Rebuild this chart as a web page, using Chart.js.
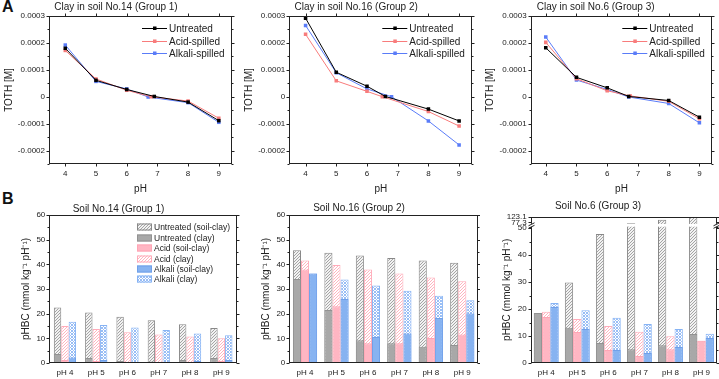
<!DOCTYPE html>
<html>
<head>
<meta charset="utf-8">
<script src="https://cdn.jsdelivr.net/npm/chart.js@4.4.1/dist/chart.umd.min.js"></script>
<style>
  body { margin: 0; background: #fff; }
  #wrap { position: relative; width: 719px; height: 379px; overflow: hidden; font-family: "Liberation Sans", Arial, sans-serif; }
  canvas { position: absolute; }
  .tag { position: absolute; font-weight: bold; font-size: 16px; color: #111; line-height: 16px; }
</style>
</head>
<body>
<div id="wrap">
  <div class="tag" style="left:2px;top:-1px">A</div>
  <div class="tag" style="left:2px;top:191px">B</div>
  <canvas id="a1" width="240" height="195" style="left:0;top:0"></canvas>
  <canvas id="a2" width="240" height="195" style="left:240px;top:0"></canvas>
  <canvas id="a3" width="240" height="195" style="left:479px;top:0"></canvas>
  <canvas id="b1" width="240" height="189" style="left:0;top:190px"></canvas>
  <canvas id="b2" width="240" height="189" style="left:240px;top:190px"></canvas>
  <canvas id="b3" width="240" height="189" style="left:479px;top:190px"></canvas>
</div>
<script>
// ---- panel A: TOTH vs pH ----
const seriesNames = ['Untreated', 'Acid-spilled', 'Alkali-spilled'];
const phTicks = [4, 5, 6, 7, 8, 9];
const tothTicks = [-0.0002, -0.0001, 0, 0.0001, 0.0002, 0.0003];

const ph14 = [[4, 5, 6, 6.9, 8, 9], [4, 5, 6, 6.8, 8, 9], [4, 5, 6, 6.7, 8, 9]];
const toth14Untreated = [0.000180, 0.000061, 0.000027, 0.000001, -0.000020, -0.000089];
const toth14Acid = [0.000172, 0.000066, 0.000024, 0.000000, -0.000016, -0.000080];
const toth14Alkali = [0.000192, 0.000057, 0.000029, -0.000001, -0.000022, -0.000095];

const ph16 = [[4, 5, 6, 6.6, 8, 9], [4, 5, 6, 6.5, 8, 9], [4, 5, 6, 6.8, 8, 9]];
const toth16Untreated = [0.000292, 0.000091, 0.000039, 0.000001, -0.000046, -0.000090];
const toth16Acid = [0.000232, 0.000059, 0.000020, 0.000000, -0.000055, -0.000109];
const toth16Alkali = [0.000265, 0.000089, 0.000029, 0.000000, -0.000090, -0.000179];

const ph6 = [[4, 5, 6, 6.7, 8, 9], [4, 5, 6, 6.75, 8, 9], [4, 5, 6, 6.7, 8, 9]];
const toth6Untreated = [0.000182, 0.000072, 0.000033, 0.000001, -0.000014, -0.000076];
const toth6Acid = [0.000202, 0.000067, 0.000022, 0.000003, -0.000017, -0.000082];
const toth6Alkali = [0.000222, 0.000062, 0.000027, -0.000001, -0.000025, -0.000097];

// ---- panel B: pHBC bars ----
const phLabels = ['pH 4', 'pH 5', 'pH 6', 'pH 7', 'pH 8', 'pH 9'];
const barLabels = ['Untreated (soil-clay)', 'Untreated (clay)', 'Acid (soil-clay)', 'Acid (clay)', 'Alkali (soil-clay)', 'Alkali (clay)'];
const yTicksB = [0, 10, 20, 30, 40, 50, 60];
const yTicksB3 = [0, 10, 20, 30, 40, 50, 77.3, 123.1];

const untreatedTotal14 = [22.5, 20.5, 18.8, 17.3, 15.7, 14.2];
const untreatedClay14 = [3.6, 2.0, 0.8, 0.6, 1.2, 2.0];
const acidSolid14 = [1.2, 0.8, 0.3, 0.2, 0.3, 0.8];
const acidTotal14 = [15.0, 13.8, 12.5, 11.6, 10.7, 10.0];
const alkaliSolid14 = [2.2, 1.2, 0.4, 0.3, 0.8, 1.2];
const alkaliTotal14 = [16.7, 15.4, 14.4, 13.4, 12.0, 11.2];

const untreatedTotal16 = [45.7, 44.7, 43.6, 42.6, 41.6, 40.6];
const untreatedClay16 = [34.1, 21.5, 9.2, 8.0, 6.6, 7.3];
const acidSolid16 = [37.9, 23.0, 8.0, 8.0, 10.1, 11.6];
const acidTotal16 = [41.6, 39.7, 37.9, 36.3, 34.7, 33.1];
const alkaliSolid16 = [36.3, 25.9, 10.5, 12.0, 18.2, 20.1];
const alkaliTotal16 = [36.3, 33.9, 31.4, 29.3, 27.3, 25.4];

const untreatedTotal6 = [18.6, 29.9, 47.9, 73.0, 98.0, 123.1];
const untreatedClay6 = [18.6, 13.1, 7.4, 5.1, 6.6, 10.8];
const acidSolid6 = [17.1, 11.5, 4.8, 2.6, 5.1, 8.3];
const acidTotal6 = [19.0, 16.3, 13.7, 11.6, 9.9, 8.3];
const alkaliSolid6 = [20.8, 12.6, 4.8, 3.7, 5.9, 9.3];
const alkaliTotal6 = [22.3, 19.6, 16.8, 14.5, 12.6, 10.9];

const FONT = '"Liberation Sans", Arial, sans-serif';
Chart.defaults.font.family = FONT;
Chart.defaults.color = '#222';

const lineColors = ['#000000', '#f87c7c', '#5a7cf8'];

function hatch(line, bg, size, cross) {
  const c = document.createElement('canvas');
  c.width = c.height = size;
  const g = c.getContext('2d');
  g.fillStyle = bg;
  g.fillRect(0, 0, size, size);
  g.strokeStyle = line;
  g.lineWidth = 1;
  g.beginPath();
  g.moveTo(-1, size + 1); g.lineTo(size + 1, -1);
  if (cross) { g.moveTo(-1, -1); g.lineTo(size + 1, size + 1); }
  g.stroke();
  return g.createPattern(c, 'repeat');
}
const grayHatch = hatch('#a4a4a4', '#f2f2f2', 3);
const pinkHatch = hatch('#ffb3bf', '#ffffff', 3);
const blueHatch = hatch('#98bdf5', '#ffffff', 3, true);

// axis break for the Soil No.6 panel: 50 -> 77.3 -> 123.1 squeezed at the top
function squash(v) {
  if (v <= 50) return v;
  if (v <= 77.3) return 50 + (v - 50) / 27.3 * 2.2;
  return 52.2 + (v - 77.3) / 45.8 * 2.1;
}
class BrokenScale extends Chart.LinearScale {
  getPixelForValue(v) { return super.getPixelForValue(squash(v)); }
}
BrokenScale.id = 'broken';
BrokenScale.defaults = Chart.LinearScale.defaults;
Chart.register(BrokenScale);

// box frame with outward ticks on every side, Origin style
const originFrame = {
  id: 'originFrame',
  afterDatasetsDraw(chart, args, o) {
    if (!o.gap) return;
    const { ctx, chartArea: a, scales: { y } } = chart;
    const p0 = y.getPixelForValue(o.gap[0]), p1 = y.getPixelForValue(o.gap[1]);
    ctx.save();
    ctx.fillStyle = '#fff';
    ctx.fillRect(a.left + 1, p1, a.right - a.left - 2, p0 - p1);
    ctx.restore();
  },
  afterDraw(chart, args, o) {
    const { ctx, chartArea: a, scales: { x, y } } = chart;
    const L = Math.round(a.left) + 0.5, R = Math.round(a.right) - 0.5;
    const T = Math.round(a.top) + 0.5, B = Math.round(a.bottom) - 0.5;
    ctx.save();
    ctx.strokeStyle = '#222';
    ctx.lineWidth = 1;
    ctx.strokeRect(L, T, R - L, B - T);
    ctx.beginPath();
    y.ticks.forEach(t => {
      const p = Math.round(y.getPixelForValue(t.value)) + 0.5;
      ctx.moveTo(L - 3, p); ctx.lineTo(L, p);
      ctx.moveTo(R, p); ctx.lineTo(R + 3, p);
    });
    if (o.minor) {
      for (let v = o.minor[0]; v <= o.minor[1] + 1e-12; v += o.minor[2]) {
        const p = Math.round(y.getPixelForValue(v)) + 0.5;
        ctx.moveTo(L - 2, p); ctx.lineTo(L, p);
        ctx.moveTo(R, p); ctx.lineTo(R + 2, p);
      }
    }
    if (o.xTicks) {
      x.ticks.forEach(t => {
        const p = Math.round(x.getPixelForValue(t.value)) + 0.5;
        ctx.moveTo(p, B); ctx.lineTo(p, B + 3);
        ctx.moveTo(p, T - 3); ctx.lineTo(p, T);
      });
    }
    ctx.stroke();
    if (o.gap) {
      const pm = (y.getPixelForValue(o.gap[0]) + y.getPixelForValue(o.gap[1])) / 2;
      [L, R].forEach(px => {
        ctx.fillStyle = '#fff';
        ctx.fillRect(px - 3, pm - 1.5, 6, 3);
        ctx.beginPath();
        ctx.moveTo(px - 3, pm + 0.5); ctx.lineTo(px + 3, pm - 2.5);
        ctx.moveTo(px - 3, pm + 3); ctx.lineTo(px + 3, pm);
        ctx.stroke();
      });
    }
    ctx.restore();
  }
};

// legend drawn inside the plot area
const insideLegend = {
  id: 'insideLegend',
  afterDraw(chart, args, o) {
    if (!o.show) return;
    const { ctx, chartArea: a } = chart;
    ctx.save();
    ctx.font = o.size + 'px ' + FONT;
    ctx.textBaseline = 'middle';
    ctx.fillStyle = '#222';
    chart.data.datasets.forEach((ds, i) => {
      const x = a.right - o.right, y = Math.round(a.top + o.top + i * o.gap) + 0.5;
      if (o.kind === 'line') {
        ctx.strokeStyle = ds.borderColor;
        ctx.lineWidth = 1;
        ctx.beginPath(); ctx.moveTo(x, y); ctx.lineTo(x + 25, y); ctx.stroke();
        ctx.fillStyle = ds.borderColor;
        ctx.fillRect(x + 11, y - 2, 3.5, 3.5);
        ctx.fillStyle = '#222';
        ctx.fillText(ds.label, x + 27, y + 0.5);
      } else {
        ctx.fillStyle = ds.backgroundColor;
        ctx.fillRect(x, y - 4, 15, 7);
        ctx.strokeStyle = ds.borderColor;
        ctx.lineWidth = 1;
        ctx.strokeRect(x + 0.5, y - 3.5, 14, 6);
        ctx.fillStyle = '#222';
        ctx.fillText(ds.label, x + 17, y);
      }
    });
    ctx.restore();
  }
};

function makeLine(id, title, xs, ys, lay) {
  return new Chart(document.getElementById(id), {
    type: 'line',
    data: {
      // dataset 0 (Untreated) is drawn last, so it sits on top
      datasets: seriesNames.map((name, i) => ({
        label: name,
        data: xs[i].map((x, j) => ({ x, y: ys[i][j] })),
        borderColor: lineColors[i],
        backgroundColor: lineColors[i],
        borderWidth: 1,
        pointStyle: 'rect',
        pointRadius: 2.5,
        pointBorderWidth: 0,
        tension: 0
      }))
    },
    options: {
      animation: false, responsive: false, devicePixelRatio: 1,
      layout: { padding: { left: 0, top: 0, right: lay.right, bottom: 0 } },
      plugins: {
        legend: { display: false },
        tooltip: { enabled: false },
        title: { display: true, text: title, color: '#222', font: { size: 10, weight: 'normal' }, padding: { top: lay.tp, bottom: lay.tb } },
        originFrame: { xTicks: true, minor: [-0.00025, 0.0003, 0.00005] },
        insideLegend: { show: true, kind: 'line', right: 90, top: 12, gap: 12.5, size: 10 }
      },
      scales: {
        x: {
          type: 'linear', min: lay.xmin, max: lay.xmax,
          afterBuildTicks: s => { s.ticks = phTicks.map(v => ({ value: v })); },
          afterFit: s => { s.height = 195 - 164; },
          grid: { display: false, drawTicks: false }, border: { display: false },
          ticks: { font: { size: 8 }, padding: 5 },
          title: { display: true, text: 'pH', font: { size: 10 }, padding: { top: 0, bottom: 0 } }
        },
        y: {
          min: -0.00025, max: 0.0003,
          afterBuildTicks: s => { s.ticks = tothTicks.map(v => ({ value: v })); },
          afterFit: s => { s.width = lay.left; },
          grid: { display: false, drawTicks: false }, border: { display: false },
          ticks: { font: { size: 8 }, padding: 4, callback: v => Math.abs(v) < 1e-12 ? '0' : v.toFixed(4) },
          title: { display: true, text: 'TOTH [M]', font: { size: 10 }, padding: { top: lay.yt, bottom: 0 } }
        }
      }
    },
    plugins: [originFrame, insideLegend]
  });
}

function makeBar(id, title, s, lay) {
  const common = { borderWidth: 1, barPercentage: 1, categoryPercentage: lay.cat };
  return new Chart(document.getElementById(id), {
    type: 'bar',
    data: {
      labels: phLabels,
      datasets: [
        { ...common, label: barLabels[0], data: s[0], stack: 'u', order: 2, backgroundColor: grayHatch, borderColor: '#888888' },
        { ...common, label: barLabels[1], data: s[1], stack: 'u', order: 1, backgroundColor: '#a8a8a8', borderColor: '#929292' },
        { ...common, label: barLabels[2], data: s[2], stack: 'a', order: 1, backgroundColor: '#ffb6c3', borderColor: '#ffa5b5' },
        { ...common, label: barLabels[3], data: s[3], stack: 'a', order: 2, backgroundColor: pinkHatch, borderColor: '#ffabb9' },
        { ...common, label: barLabels[4], data: s[4], stack: 'k', order: 1, backgroundColor: '#87b3f1', borderColor: '#70a0e9' },
        { ...common, label: barLabels[5], data: s[5], stack: 'k', order: 2, backgroundColor: blueHatch, borderColor: '#86b3f4' }
      ]
    },
    options: {
      animation: false, responsive: false, devicePixelRatio: 1,
      layout: { padding: { left: 0, top: 0, right: lay.right, bottom: 0 } },
      plugins: {
        legend: { display: false },
        tooltip: { enabled: false },
        title: { display: true, text: title, color: '#222', font: { size: 10, weight: 'normal' }, padding: { top: lay.tp, bottom: lay.tb } },
        originFrame: { minor: [5, 55, 10], gap: lay.gap },
        insideLegend: { show: !!lay.legend, kind: 'box', right: 100, top: 12.3, gap: 10.4, size: 8.5 }
      },
      scales: {
        x: {
          stacked: true,
          afterFit: sc => { sc.height = 189 - 173; },
          grid: { display: false, drawTicks: false }, border: { display: false },
          ticks: { font: { size: 8 }, padding: 5 }
        },
        y: {
          type: lay.broken ? 'broken' : 'linear',
          stacked: false,
          min: 0, max: lay.broken ? 54.3 : 60,
          afterBuildTicks: sc => { sc.ticks = (lay.broken ? yTicksB3 : yTicksB).map(v => ({ value: v })); },
          afterFit: sc => { sc.width = lay.left; },
          grid: { display: false, drawTicks: false }, border: { display: false },
          ticks: { font: { size: 8 }, padding: 4, autoSkip: false, callback: v => String(v) },
          title: { display: true, text: 'pHBC (mmol kg⁻¹ pH⁻¹)', font: { size: 10 }, padding: { top: lay.yt, bottom: 0 } }
        }
      }
    },
    plugins: [originFrame, insideLegend]
  });
}

makeLine('a1', 'Clay in soil No.14 (Group 1)', ph14, [toth14Untreated, toth14Acid, toth14Alkali],
  { left: 49, right: 8, tp: 1.5, tb: 2.5, yt: 3, xmin: 3.47, xmax: 9.43 });
makeLine('a2', 'Clay in soil No.16 (Group 2)', ph16, [toth16Untreated, toth16Acid, toth16Alkali],
  { left: 49.3, right: 7.7, tp: 1, tb: 3, yt: 3, xmin: 3.47, xmax: 9.43 });
makeLine('a3', 'Clay in soil No.6 (Group 3)', ph6, [toth6Untreated, toth6Acid, toth6Alkali],
  { left: 51.7, right: 6.7, tp: 1.5, tb: 2.5, yt: 5, xmin: 3.51, xmax: 9.42 });

makeBar('b1', 'Soil No.14 (Group 1)',
  [untreatedTotal14, untreatedClay14, acidSolid14, acidTotal14, alkaliSolid14, alkaliTotal14],
  { left: 49.3, right: 3, tp: 13, tb: 0, yt: 20, cat: 0.71, legend: true });
makeBar('b2', 'Soil No.16 (Group 2)',
  [untreatedTotal16, untreatedClay16, acidSolid16, acidTotal16, alkaliSolid16, alkaliTotal16],
  { left: 49.3, right: 2, tp: 12.3, tb: 0.7, yt: 20, cat: 0.77 });
makeBar('b3', 'Soil No.6 (Group 3)',
  [untreatedTotal6, untreatedClay6, acidSolid6, acidTotal6, alkaliSolid6, alkaliTotal6],
  { left: 51.7, right: 2, tp: 10.7, tb: 4, yt: 22, cat: 0.8, broken: true, gap: [57.5, 70] });
</script>
</body>
</html>
